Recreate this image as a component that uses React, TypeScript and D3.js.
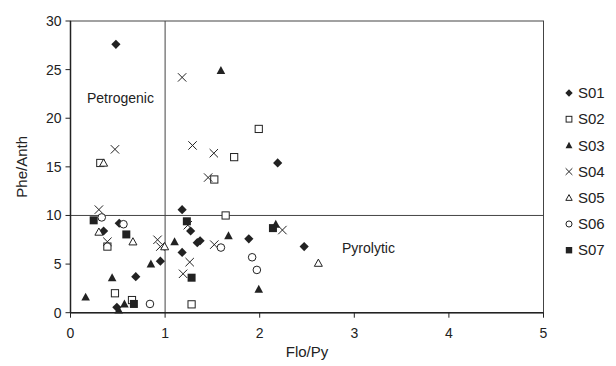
import React from "react";
import * as d3 from "d3";

const seriesNames = ["S01", "S02", "S03", "S04", "S05", "S06", "S07"];

const S01: [number, number][] = [
  [0.48, 27.6], [2.19, 15.4], [1.18, 10.6], [0.35, 8.4], [0.515, 9.2], [0.95, 5.3],
  [0.69, 3.7], [0.49, 0.55], [1.27, 8.4], [1.34, 7.2], [1.37, 7.4], [1.885, 7.6],
  [1.18, 6.2], [2.47, 6.8],
];
const S02: [number, number][] = [
  [0.315, 15.4], [1.99, 18.9], [1.73, 16.0], [1.52, 13.7], [1.64, 10.0], [0.39, 6.8],
  [0.47, 2.0], [0.65, 1.3], [1.28, 0.86],
];
const S03: [number, number][] = [
  [1.59, 24.9], [0.16, 1.6], [0.44, 3.6], [0.85, 5.0], [0.57, 0.9], [0.51, 0.28],
  [1.1, 7.3], [1.67, 7.9], [1.99, 2.4], [2.17, 9.1],
];
const S04: [number, number][] = [
  [1.18, 24.2], [0.47, 16.8], [1.29, 17.2], [1.515, 16.4], [1.455, 13.9], [0.3, 10.6],
  [0.39, 7.3], [0.92, 7.5], [0.95, 6.8], [1.52, 7.0], [1.26, 5.2], [1.19, 4.0],
  [2.24, 8.5], [1.24, 9.0],
];
const S05: [number, number][] = [
  [0.35, 15.4], [0.3, 8.3], [0.66, 7.3], [0.995, 6.8], [2.62, 5.1],
];
const S06: [number, number][] = [
  [0.33, 9.8], [0.56, 9.1], [0.84, 0.9], [1.59, 6.7], [1.92, 5.7], [1.97, 4.4],
];
const S07: [number, number][] = [
  [0.245, 9.5], [0.59, 8.05], [0.67, 0.9], [1.23, 9.4], [1.28, 3.6], [2.14, 8.7],
];

const seriesData = [S01, S02, S03, S04, S05, S06, S07];
const xTicks = [0, 1, 2, 3, 4, 5];
const yTicks = [0, 5, 10, 15, 20, 25, 30];

const W = 616;
const H = 366;
const x = d3.scaleLinear().domain([0, 5]).range([70.5, 543.5]);
const y = d3.scaleLinear().domain([0, 30]).range([312.7, 21]);
const ink = "#222";
const axisCol = "#444";
const font = "Liberation Sans, Arial, sans-serif";

function Marker({ kind, cx, cy, s = 1 }: { kind: number; cx: number; cy: number; s?: number }) {
  const t = `translate(${cx},${cy})`;
  switch (kind) {
    case 0: {
      const r = 4.6 * s;
      return <path transform={t} d={`M0,${-r}L${r},0L0,${r}L${-r},0Z`} fill={ink} />;
    }
    case 1: {
      const h = 3.6 * s;
      return <rect transform={t} x={-h} y={-h} width={2 * h} height={2 * h} fill="white" stroke={ink} strokeWidth={1} />;
    }
    case 2: {
      const h = 4.3 * s;
      return <path transform={t} d={`M0,${-h * 1.05}L${h},${h * 0.8}L${-h},${h * 0.8}Z`} fill={ink} />;
    }
    case 3: {
      const h = 4.2 * s;
      return <path transform={t} d={`M${-h},${-h}L${h},${h}M${-h},${h}L${h},${-h}`} stroke={ink} strokeWidth={1} fill="none" />;
    }
    case 4: {
      const h = 4 * s;
      return <path transform={t} d={`M0,${-h}L${h},${h * 0.8}L${-h},${h * 0.8}Z`} fill="white" stroke={ink} strokeWidth={1} />;
    }
    case 5: {
      return <circle cx={cx} cy={cy} r={3.8 * s} fill="white" stroke={ink} strokeWidth={1} />;
    }
    default: {
      const h = 4 * s;
      return <rect transform={t} x={-h} y={-h} width={2 * h} height={2 * h} fill={ink} />;
    }
  }
}

export default function App() {
  const legendY0 = 93;
  const legendStep = 26.2;
  return (
    <svg
      width={W}
      height={H}
      style={{ position: "absolute", left: 0, top: 0, background: "white" }}
      fontFamily={font}
    >
      <rect x={0} y={0} width={W} height={H} fill="white" />
      {/* frame */}
      <rect
        x={x(0)}
        y={y(30)}
        width={x(5) - x(0)}
        height={y(0) - y(30)}
        fill="none"
        stroke={axisCol}
        strokeWidth={1}
      />
      {/* divider lines */}
      <line x1={x(1)} x2={x(1)} y1={y(30)} y2={y(0)} stroke={axisCol} strokeWidth={1} />
      <line x1={x(0)} x2={x(5)} y1={y(10)} y2={y(10)} stroke={axisCol} strokeWidth={1} />
      {/* axes */}
      <line x1={x(0)} x2={x(5)} y1={y(0)} y2={y(0)} stroke={ink} strokeWidth={1.5} />
      <line x1={x(0)} x2={x(0)} y1={y(30)} y2={y(0)} stroke={ink} strokeWidth={1.5} />
      {yTicks.map((v) => (
        <g key={"y" + v}>
          <line x1={x(0) - 5} x2={x(0)} y1={y(v)} y2={y(v)} stroke={ink} strokeWidth={1} />
          <text x={x(0) - 9} y={y(v)} dy="0.35em" textAnchor="end" fontSize={14} fill={ink}>
            {v}
          </text>
        </g>
      ))}
      {xTicks.map((v) => (
        <g key={"x" + v}>
          <line x1={x(v)} x2={x(v)} y1={y(0)} y2={y(0) + 5} stroke={ink} strokeWidth={1} />
          <text x={x(v)} y={y(0) + 20} dy="0.35em" textAnchor="middle" fontSize={14} fill={ink}>
            {v}
          </text>
        </g>
      ))}
      <text x={(x(0) + x(5)) / 2} y={352} dy="0.35em" textAnchor="middle" fontSize={15} fill={ink}>
        Flo/Py
      </text>
      <text
        transform={`translate(22,${(y(0) + y(30)) / 2}) rotate(-90)`}
        dy="0.35em"
        textAnchor="middle"
        fontSize={15}
        fill={ink}
      >
        Phe/Anth
      </text>
      <text x={87} y={98} dy="0.35em" fontSize={14} fill={ink}>
        Petrogenic
      </text>
      <text x={342} y={248} dy="0.35em" fontSize={14} fill={ink}>
        Pyrolytic
      </text>
      {/* points */}
      {seriesData.map((pts, si) => (
        <g key={seriesNames[si]}>
          {pts.map((p, i) => (
            <Marker key={i} kind={si} cx={x(p[0])} cy={y(p[1])} />
          ))}
        </g>
      ))}
      {/* legend */}
      {seriesNames.map((name, i) => (
        <g key={"lg" + name}>
          <Marker kind={i} cx={569} cy={legendY0 + i * legendStep} s={0.8} />
          <text x={578} y={legendY0 + i * legendStep} dy="0.35em" fontSize={15} fill={ink}>
            {name}
          </text>
        </g>
      ))}
    </svg>
  );
}
